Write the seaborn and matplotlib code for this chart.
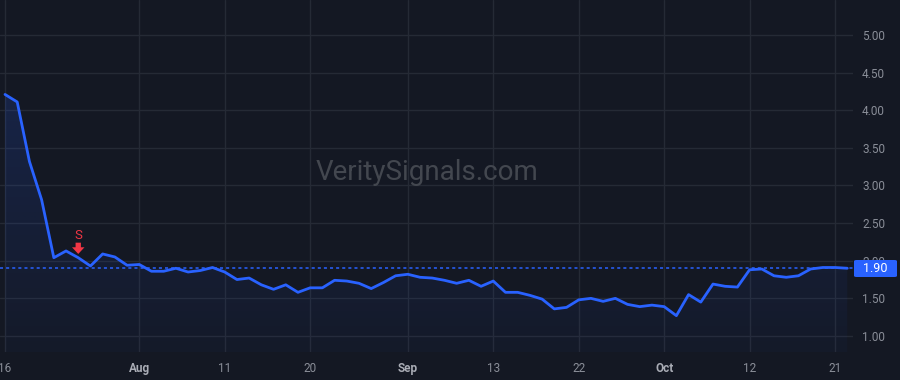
import numpy as np
import pandas as pd
import matplotlib
matplotlib.use("Agg")
import matplotlib.pyplot as plt
import seaborn as sns
from matplotlib.patches import Polygon, FancyBboxPatch

# ---------------- data ----------------
values = [4.21, 4.11, 3.32, 2.81, 2.04, 2.13, 2.04, 1.93, 2.09, 2.05,
          1.94, 1.95, 1.86, 1.86, 1.90, 1.85, 1.87, 1.91, 1.85, 1.75,
          1.77, 1.68, 1.62, 1.68, 1.58, 1.64, 1.64, 1.74, 1.73, 1.70,
          1.63, 1.71, 1.80, 1.82, 1.78, 1.77, 1.74, 1.70, 1.74, 1.66,
          1.73, 1.58, 1.58, 1.54, 1.49, 1.36, 1.38, 1.48, 1.50, 1.46,
          1.50, 1.42, 1.39, 1.41, 1.39, 1.27, 1.55, 1.45, 1.69, 1.66,
          1.65, 1.88, 1.89, 1.80, 1.78, 1.80, 1.89, 1.91, 1.91, 1.90]
tick_labels = ["16", "Aug", "11", "20", "Sep", "13", "22", "Oct", "12", "21"]
tick_index = [0, 11, 18, 25, 33, 40, 47, 54, 61, 68]
month_labels = ["Aug", "Sep", "Oct"]
y_ticks = [1.00, 1.50, 2.00, 2.50, 3.00, 3.50, 4.00, 4.50, 5.00]
last_value = values[-1]
signal_index = 6
signal_text = "S"
watermark = "VeritySignals.com"

# ---------------- style ----------------
BG = "#141823"
GRID = "#252a35"
LINE = "#2962ff"
TXT = "#8a8e98"
MONTH = "#a9acb5"
RED = "#f23645"

sns.set_theme(style="dark", rc={"axes.facecolor": BG, "figure.facecolor": BG})
plt.rcParams["font.family"] = ["Roboto", "DejaVu Sans"]

W, H = 900, 380
fig = plt.figure(figsize=(W / 100, H / 100), dpi=100, facecolor=BG)
ax = fig.add_axes([0, 28 / H, 853 / W, 352 / H])
ax.set_facecolor(BG)

df = pd.DataFrame({"idx": np.arange(len(values)), "value": values})

x0, x1 = -0.41, 69.47
y0, y1 = 0.787, 5.465

# gradient area fill under the line
ny = 200
alpha_col = np.linspace(0.03, 0.17, ny)
grad = np.zeros((ny, 2, 4))
grad[..., 0] = 41 / 255
grad[..., 1] = 98 / 255
grad[..., 2] = 255 / 255
grad[..., 3] = alpha_col[:, None]
im = ax.imshow(grad, extent=[x0, x1, y0, 4.4], origin="lower", aspect="auto",
               zorder=1, interpolation="bilinear")
verts = [(df.idx.iloc[0], y0)] + list(zip(df.idx, df.value)) + [(df.idx.iloc[-1], y0)]
clip = Polygon(verts, closed=True, transform=ax.transData, facecolor="none", edgecolor="none")
ax.add_patch(clip)
im.set_clip_path(clip)

sns.lineplot(data=df, x="idx", y="value", color=LINE, linewidth=2, ax=ax, zorder=4)

# last value dotted line
ax.axhline(last_value, color=LINE, lw=1.1, ls=(0, (2, 2)), zorder=3)

ax.set_xlim(x0, x1)
ax.set_ylim(y0, y1)
ax.set_xticks(tick_index)
ax.set_xticklabels(tick_labels)
ax.set_yticks(y_ticks)
ax.set_yticklabels([f"{t:.2f}" for t in y_ticks])
ax.grid(True, color=GRID, lw=1, zorder=0)
ax.set_axisbelow(True)
for s in ax.spines.values():
    s.set_visible(False)
ax.set_xlabel("")
ax.set_ylabel("")
ax.yaxis.tick_right()
ax.tick_params(axis="y", length=0, pad=6.5, labelsize=8.5, labelcolor=TXT,
               labelright=True, labelleft=False)
ax.tick_params(axis="x", length=0, pad=7, labelsize=8.5, labelcolor=TXT)
for lab in ax.get_xticklabels():
    if lab.get_text() in month_labels:
        lab.set_fontweight("bold")
        lab.set_color(MONTH)
for lab in ax.get_yticklabels():
    lab.set_horizontalalignment("left")

# signal marker
ax.text(signal_index, 2.34, signal_text, color=RED, fontsize=9.5,
        ha="center", va="center", zorder=5)
ax.annotate("", xy=(signal_index, 2.09), xytext=(signal_index, 2.24),
            arrowprops=dict(arrowstyle="simple,head_width=0.75,head_length=0.4,tail_width=0.32",
                            color=RED, lw=0, shrinkA=0, shrinkB=0), zorder=5)

# watermark
fig.text(427 / W, 1 - 172 / H, watermark, color="#43474f", fontsize=20,
         ha="center", va="center", zorder=0)

# last value label box
bx0, bx1, by0, by1 = 854, 897, H - 277, H - 260
box = FancyBboxPatch((bx0 / W, by0 / H), (bx1 - bx0) / W, (by1 - by0) / H,
                     boxstyle="round,pad=0,rounding_size=0.003",
                     transform=fig.transFigure, facecolor=LINE, edgecolor="none",
                     zorder=10)
fig.patches.append(box)
fig.text((bx0 + bx1) / 2 / W, (by0 + by1) / 2 / H, f"{last_value:.2f}",
         color="white", fontsize=9, ha="center", va="center", zorder=11)

fig.savefig("out.png", dpi=100, facecolor=BG)
